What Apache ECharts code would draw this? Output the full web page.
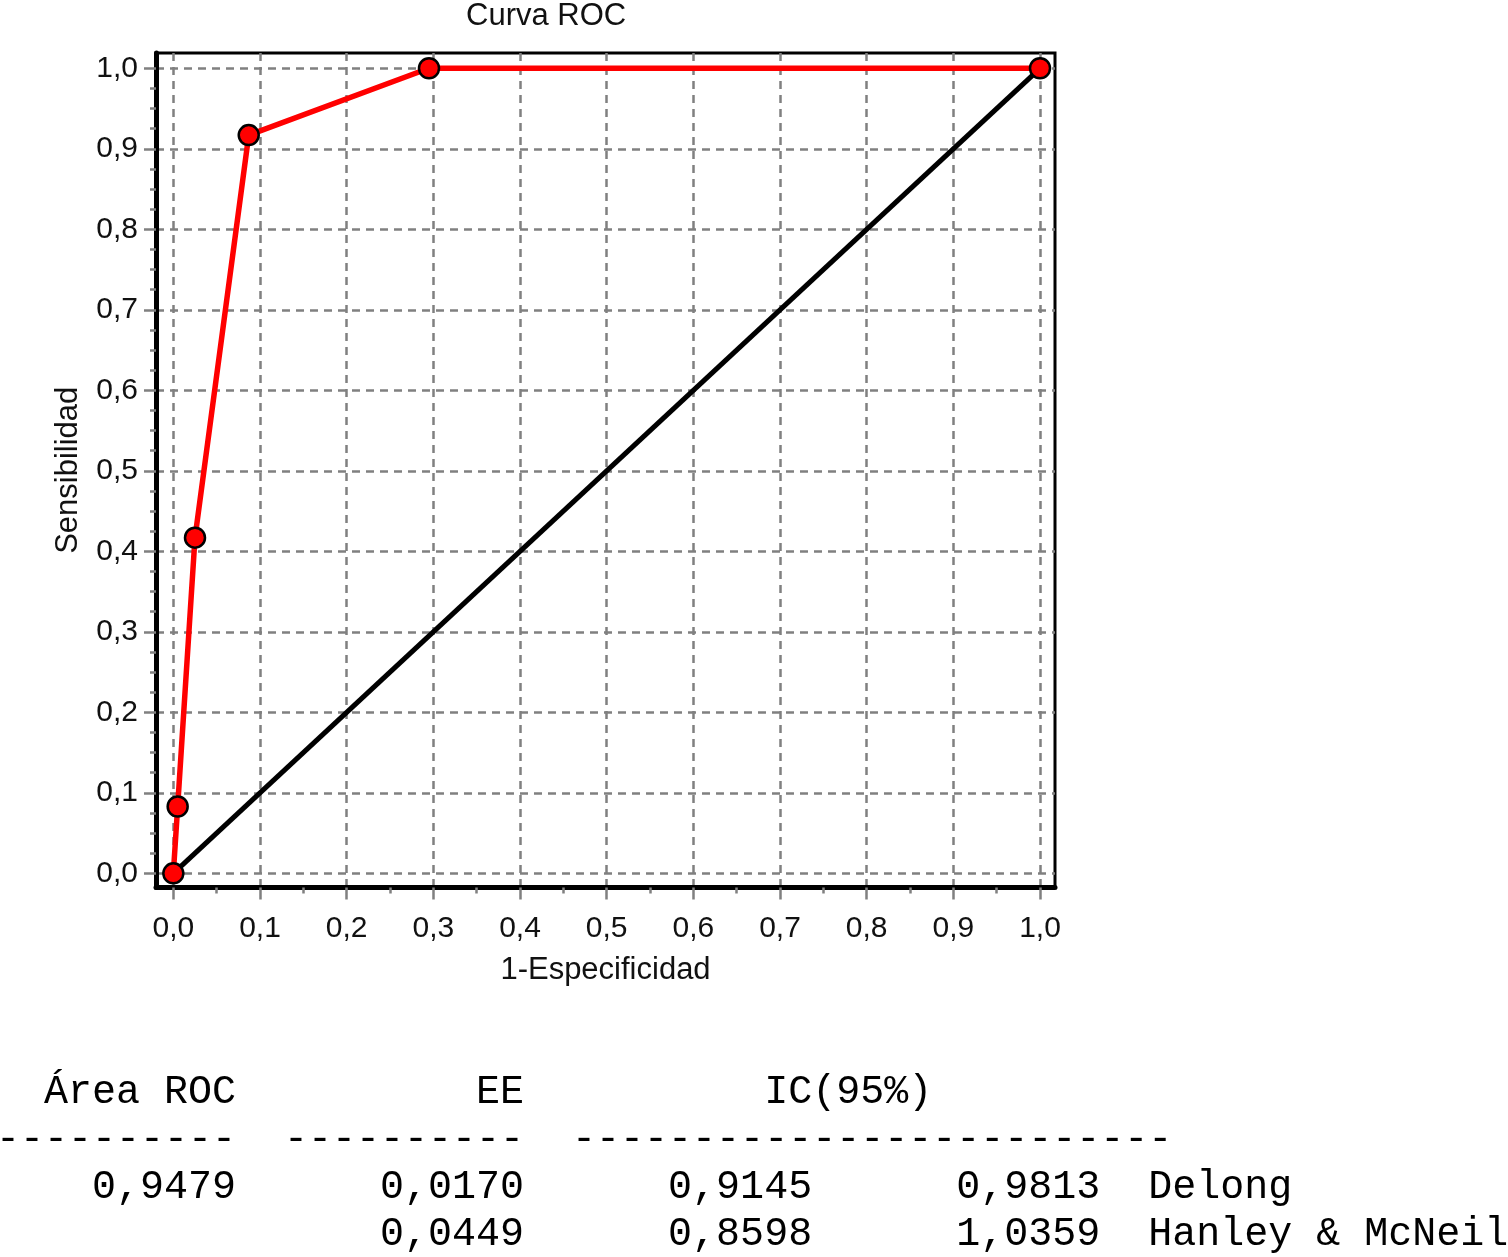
<!DOCTYPE html>
<html>
<head>
<meta charset="utf-8">
<script src="https://cdn.jsdelivr.net/npm/echarts@6/dist/echarts.min.js"></script>
<style>
  html, body { margin: 0; padding: 0; background: #fff; }
  #chart { width: 1508px; height: 1257px; }
</style>
</head>
<body>
<div id="chart"></div>
<script>
// ---- Data ----
const rocX = [0, 0.005, 0.025, 0.087, 0.295, 1.0];
const rocY = [0, 0.083, 0.417, 0.917, 1.0, 1.0];
const diagX = [0, 1];
const diagY = [0, 1];
const xTicks = [0, 0.1, 0.2, 0.3, 0.4, 0.5, 0.6, 0.7, 0.8, 0.9, 1.0];
const yTicks = [0, 0.1, 0.2, 0.3, 0.4, 0.5, 0.6, 0.7, 0.8, 0.9, 1.0];
const titleText = 'Curva ROC';
const xName = '1-Especificidad';
const yName = 'Sensibilidad';

// summary table
const tableHeaders = ['Área ROC', 'EE', 'IC(95%)'];
const areaROC = ['0,9479', ''];
const eeVals = ['0,0170', '0,0449'];
const icLow = ['0,9145', '0,8598'];
const icHigh = ['0,9813', '1,0359'];
const methods = ['Delong', 'Hanley & McNeil'];

// ---- helpers ----
const fmt = v => v.toFixed(1).replace('.', ',');
const padL = (s, n) => ' '.repeat(Math.max(0, n - s.length)) + s;
const xMinor = [];
for (let i = 0; i < xTicks.length - 1; i++) xMinor.push(+((xTicks[i] + xTicks[i + 1]) / 2).toFixed(3));
const yMinor = [];
for (let i = 0; i < yTicks.length - 1; i++) {
  const a = yTicks[i], b = yTicks[i + 1];
  for (let k = 1; k < 4; k++) yMinor.push(+(a + (b - a) * k / 4).toFixed(4));
}

const tableLines = [];
tableLines.push('  ' + tableHeaders[0] + padL(tableHeaders[1], 12) + ' '.repeat(10) + tableHeaders[2]);
tableLines.push('-'.repeat(10) + '  ' + '-'.repeat(10) + '  ' + '-'.repeat(25));
for (let i = 0; i < eeVals.length; i++) {
  tableLines.push(padL(areaROC[i], 10) + padL(eeVals[i], 12) + padL(icLow[i], 12) + padL(icHigh[i], 12) + '  ' + methods[i]);
}

const sans = '"Liberation Sans", Arial, sans-serif';
const gridColor = '#808080';
const X_MIN = -0.02, X_MAX = 1.0173, Y_MIN = -0.0176, Y_MAX = 1.019;

const chart = echarts.init(document.getElementById('chart'), null, { renderer: 'canvas' });
chart.setOption({
  animation: false,
  backgroundColor: '#fff',
  title: {
    text: titleText,
    left: 466, top: 1, padding: 0,
    textStyle: { fontFamily: sans, fontSize: 31, fontWeight: 'normal', color: '#111' }
  },
  grid: {
    left: 156, top: 53, right: 453, bottom: 369.5,
    show: true, borderColor: '#000', borderWidth: 3, backgroundColor: 'transparent'
  },
  xAxis: [
    {
      type: 'value', min: X_MIN, max: X_MAX, position: 'bottom',
      name: xName, nameLocation: 'middle', nameGap: 67,
      nameTextStyle: { fontFamily: sans, fontSize: 31, color: '#111' },
      axisLine: { show: true, onZero: false, lineStyle: { color: '#000', width: 5 } },
      axisTick: { show: true, customValues: xTicks, length: 12, lineStyle: { color: gridColor, width: 2.5 } },
      axisLabel: { show: true, customValues: xTicks, margin: 26, formatter: fmt,
        fontFamily: sans, fontSize: 30, color: '#111' },
      splitLine: { show: true, lineStyle: { color: gridColor, width: 2.5, type: [8, 6] } }
    },
    {
      type: 'value', min: X_MIN, max: X_MAX, position: 'bottom', gridIndex: 0,
      axisLine: { show: false, onZero: false },
      axisTick: { show: true, customValues: xMinor, length: 6, lineStyle: { color: gridColor, width: 2.5 } },
      axisLabel: { show: false },
      splitLine: { show: false }
    }
  ],
  yAxis: [
    {
      type: 'value', min: Y_MIN, max: Y_MAX, position: 'left',
      name: yName, nameLocation: 'middle', nameGap: 72,
      nameTextStyle: { fontFamily: sans, fontSize: 31, color: '#111' },
      axisLine: { show: true, onZero: false, lineStyle: { color: '#000', width: 5 } },
      axisTick: { show: true, customValues: yTicks, length: 12, lineStyle: { color: gridColor, width: 2.5 } },
      axisLabel: { show: true, customValues: yTicks, margin: 18, formatter: fmt,
        fontFamily: sans, fontSize: 30, color: '#111' },
      splitLine: { show: true, lineStyle: { color: gridColor, width: 2.5, type: [8, 6] } }
    },
    {
      type: 'value', min: Y_MIN, max: Y_MAX, position: 'left', gridIndex: 0,
      axisLine: { show: false, onZero: false },
      axisTick: { show: true, customValues: yMinor, length: 6, lineStyle: { color: gridColor, width: 2.5 } },
      axisLabel: { show: false },
      splitLine: { show: false }
    }
  ],
  series: [
    {
      type: 'line', xAxisIndex: 0, yAxisIndex: 0,
      data: diagX.map((x, i) => [x, diagY[i]]),
      showSymbol: false, symbol: 'none',
      lineStyle: { color: '#000', width: 5 },
      silent: true
    },
    {
      type: 'line', xAxisIndex: 0, yAxisIndex: 0,
      data: rocX.map((x, i) => [x, rocY[i]]),
      symbol: 'circle', symbolSize: 20, showSymbol: true,
      lineStyle: { color: '#ff0000', width: 5.5 },
      itemStyle: { color: '#ff0000', borderColor: '#000', borderWidth: 2.5 },
      silent: true
    }
  ],
  graphic: tableLines.map((line, i) => ({
    type: 'text',
    x: -4,
    y: [1092, 1139, 1187, 1234][i],
    style: {
      text: line,
      font: '40px "Liberation Mono", "Courier New", monospace',
      fill: '#000',
      textAlign: 'left',
      textVerticalAlign: 'middle'
    }
  }))
});
</script>
</body>
</html>
